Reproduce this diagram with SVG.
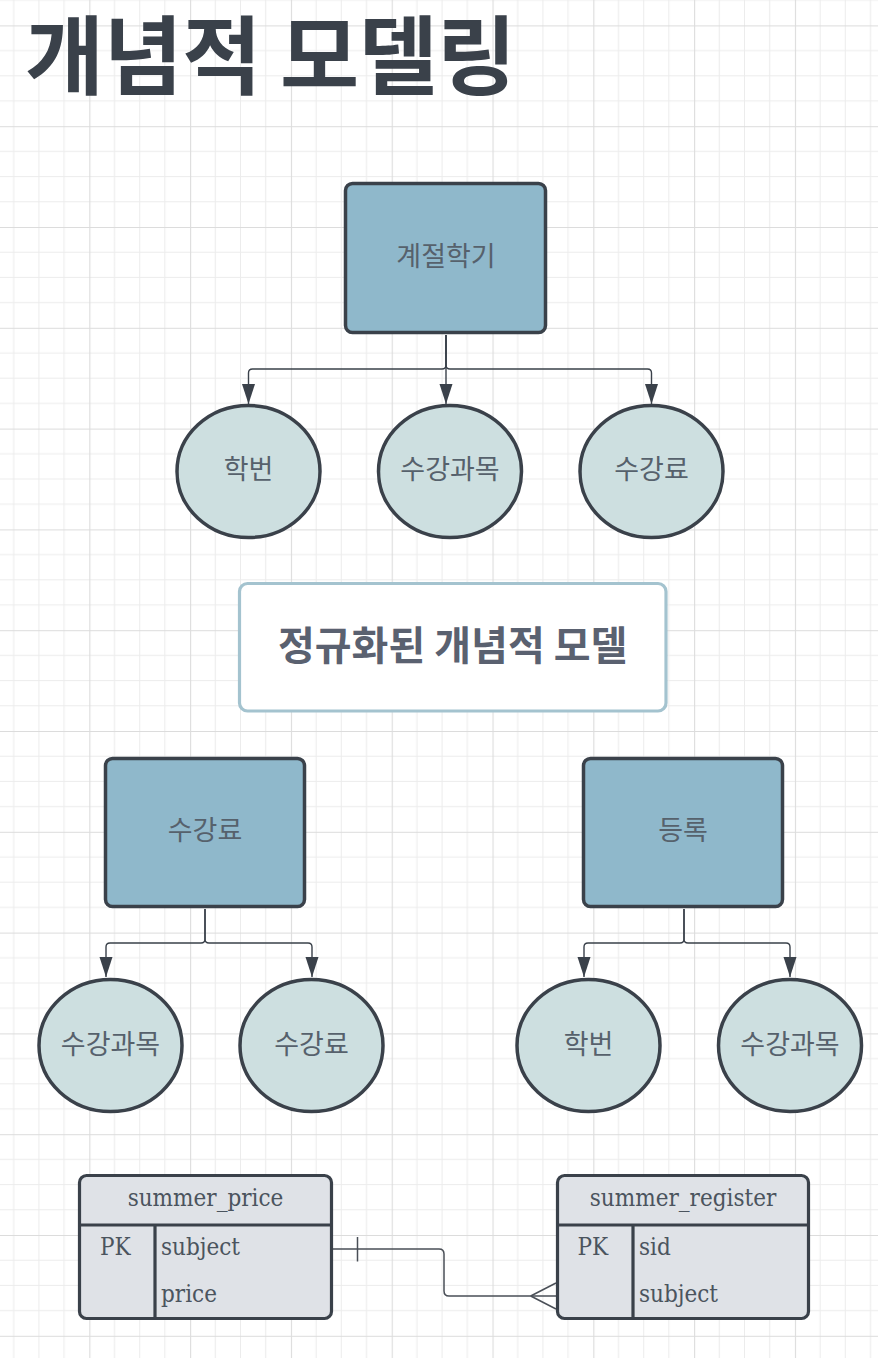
<svg xmlns="http://www.w3.org/2000/svg" width="878" height="1358" viewBox="0 0 878 1358">
<defs>
<pattern id="grid" patternUnits="userSpaceOnUse" x="-11.5" y="25.4" width="100.8" height="100.8">
<path d="M25.2,0V100.8M50.4,0V100.8M75.6,0V100.8M0,25.2H100.8M0,50.4H100.8M0,75.6H100.8" stroke="#ececec" stroke-width="1" fill="none"/>
<path d="M0.5,0V100.8M0,0.5H100.8" stroke="#dcdcdc" stroke-width="1.2" fill="none"/>
</pattern>
<marker id="arr" markerUnits="userSpaceOnUse" markerWidth="22" markerHeight="16" refX="20" refY="6.5" orient="auto">
<path d="M0,0L20,6.5L0,13z" fill="#3a414a"/>
</marker>
<style>
.ent{fill:#8fb8cb;stroke:#3a414a;stroke-width:3.5}
.att{fill:#cddfe0;stroke:#3a414a;stroke-width:3.5}
.lbl{font-family:'Noto Sans CJK KR',sans-serif;font-size:27px;fill:#56616c;text-anchor:middle}
.con{fill:none;stroke:#3a414a;stroke-width:1.4}
.tbl{fill:#dfe2e7;stroke:#3a414a;stroke-width:3.2}
.div{stroke:#3a414a;stroke-width:3.2}
.er{font-family:'DejaVu Serif Condensed','DejaVu Serif',serif;font-stretch:condensed;font-size:24px;fill:#4b545e}
.erc{fill:none;stroke:#4a4f57;stroke-width:1.5}
</style>
</defs>
<rect width="878" height="1358" fill="#ffffff"/>
<rect width="878" height="1358" fill="url(#grid)"/>

<g id="title">
<text x="25" y="88" font-family="'Noto Sans CJK KR',sans-serif" font-weight="700" font-size="86" letter-spacing="-0.5" fill="#3a414a">개념적 모델링</text>
</g>

<g id="connectors">
<path class="con" d="M446,335V365Q446,369 442,369H252.5Q248.5,369 248.5,373V404" marker-end="url(#arr)"/>
<path class="con" d="M446,335V404" marker-end="url(#arr)"/>
<path class="con" d="M446,335V365Q446,369 450,369H647.5Q651.5,369 651.5,373V404" marker-end="url(#arr)"/>
<path class="con" d="M205,909V939Q205,943 201,943H110Q106,943 106,947V977" marker-end="url(#arr)"/>
<path class="con" d="M205,909V939Q205,943 209,943H308Q312,943 312,947V977" marker-end="url(#arr)"/>
<path class="con" d="M684,909V939Q684,943 680,943H588Q584,943 584,947V977" marker-end="url(#arr)"/>
<path class="con" d="M684,909V939Q684,943 688,943H786Q790,943 790,947V977" marker-end="url(#arr)"/>
<path class="erc" d="M331.5,1249H439Q444,1249 444,1254V1291Q444,1296 449,1296H556"/>
<path class="erc" d="M357.5,1237V1261.5M530.7,1296L556,1283M530.7,1296L556,1309"/>
</g>

<g id="node-season">
<rect class="ent" x="345.5" y="183.5" width="200" height="149" rx="7"/>
<text class="lbl" x="446" y="266">계절학기</text>
</g>
<g id="node-sid1">
<ellipse class="att" cx="248.5" cy="471.5" rx="71.5" ry="66"/>
<text class="lbl" x="248.5" y="479">학번</text>
</g>
<g id="node-subject1">
<ellipse class="att" cx="450" cy="471.5" rx="71.5" ry="66"/>
<text class="lbl" x="450" y="479">수강과목</text>
</g>
<g id="node-fee1">
<ellipse class="att" cx="651.5" cy="471.5" rx="71.5" ry="66"/>
<text class="lbl" x="651.5" y="479">수강료</text>
</g>

<g id="node-heading">
<rect x="239.5" y="583.5" width="426.5" height="127.5" rx="8" fill="#ffffff" stroke="#a4c3cf" stroke-width="3.2"/>
<text x="278" y="660" font-family="'Noto Sans CJK KR',sans-serif" font-weight="700" font-size="40" fill="#5a6170">정규화된 개념적 모델</text>
</g>

<g id="node-fee-entity">
<rect class="ent" x="105.5" y="758.5" width="199" height="148" rx="7"/>
<text class="lbl" x="205" y="840">수강료</text>
</g>
<g id="node-register-entity">
<rect class="ent" x="583.5" y="758.5" width="199" height="148" rx="7"/>
<text class="lbl" x="683" y="840">등록</text>
</g>
<g id="node-subject2">
<ellipse class="att" cx="110.5" cy="1045.5" rx="71.5" ry="66"/>
<text class="lbl" x="110.5" y="1054">수강과목</text>
</g>
<g id="node-fee2">
<ellipse class="att" cx="311.5" cy="1045.5" rx="71.5" ry="66"/>
<text class="lbl" x="311.5" y="1054">수강료</text>
</g>
<g id="node-sid2">
<ellipse class="att" cx="588.5" cy="1045.5" rx="71.5" ry="66"/>
<text class="lbl" x="588.5" y="1054">학번</text>
</g>
<g id="node-subject3">
<ellipse class="att" cx="790" cy="1045.5" rx="71.5" ry="66"/>
<text class="lbl" x="790" y="1054">수강과목</text>
</g>

<g id="table-summer_price">
<rect class="tbl" x="79.5" y="1175.5" width="252" height="143" rx="7"/>
<path class="div" d="M79.5,1225H331.5M155,1225V1318.5"/>
<text class="er" x="205.5" y="1206" text-anchor="middle">summer_price</text>
<text class="er" x="100" y="1255">PK</text>
<text class="er" x="161" y="1255">subject</text>
<text class="er" x="161" y="1302">price</text>
</g>

<g id="table-summer_register">
<rect class="tbl" x="557.5" y="1175.5" width="251" height="143" rx="7"/>
<path class="div" d="M557.5,1225H808.5M633,1225V1318.5"/>
<text class="er" x="683" y="1206" text-anchor="middle">summer_register</text>
<text class="er" x="577.5" y="1255">PK</text>
<text class="er" x="639" y="1255">sid</text>
<text class="er" x="639" y="1302">subject</text>
</g>
</svg>
